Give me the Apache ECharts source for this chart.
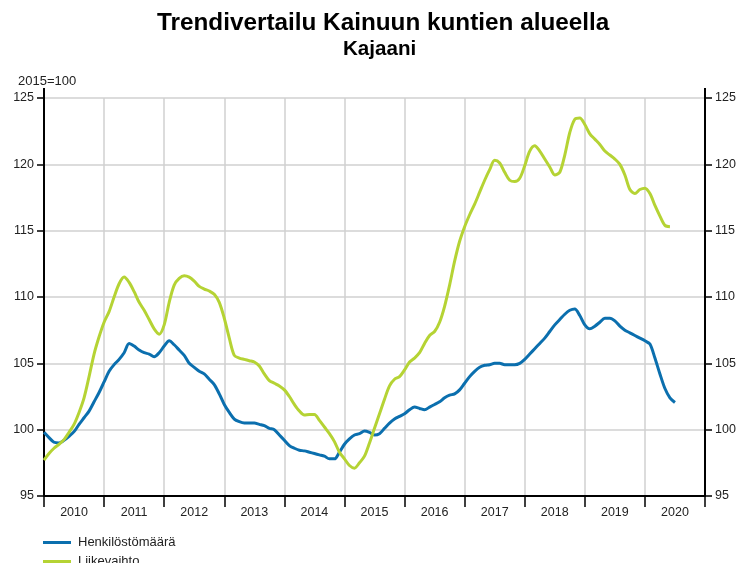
<!DOCTYPE html>
<html>
<head>
<meta charset="utf-8">
<script src="https://cdn.jsdelivr.net/npm/echarts@6/dist/echarts.min.js"></script>
<style>
  html, body { margin: 0; padding: 0; background: #fff; }
  #chart { width: 742px; height: 563px; }
</style>
</head>
<body>
<div id="chart"></div>
<script>
  // vuodet x-akselille
  const years = ['2010','2011','2012','2013','2014','2015','2016','2017','2018','2019','2020'];
  const yMin = 95, yMax = 125, yStep = 5;
  const startYear = 2010;

  // kuukausittaiset trendit, tammikuu 2010 alkaen (2015=100)
  const henkilosto = [
    99.8, 99.4, 99.05, 99.0, 99.2, 99.5, 99.85, 100.4, 100.9, 101.4, 102.1, 102.8,
    103.6, 104.4, 104.9, 105.3, 105.8, 106.5, 106.3, 106.0, 105.8, 105.7, 105.5, 105.8,
    106.3, 106.7, 106.4, 106.0, 105.6, 105.0, 104.7, 104.4, 104.2, 103.8, 103.4, 102.7,
    101.9, 101.3, 100.8, 100.6, 100.5, 100.5, 100.5, 100.4, 100.3, 100.1, 100.0, 99.6,
    99.2, 98.8, 98.6, 98.45, 98.4, 98.3, 98.2, 98.1, 98.0, 97.8, 97.8, 98.3,
    98.9, 99.3, 99.6, 99.7, 99.9, 99.8, 99.6, 99.7, 100.1, 100.5, 100.8, 101.0,
    101.2, 101.5, 101.7, 101.6, 101.5, 101.7, 101.9, 102.1, 102.4, 102.6, 102.7, 103.0,
    103.5, 104.0, 104.4, 104.7, 104.85, 104.9, 105.0, 105.0, 104.9, 104.9, 104.9, 105.0,
    105.3, 105.7, 106.1, 106.5, 106.9, 107.4, 107.9, 108.3, 108.7, 109.0, 109.1, 108.6,
    107.9, 107.6, 107.8, 108.1, 108.4, 108.4, 108.2, 107.8, 107.5, 107.3, 107.1, 106.9,
    106.7, 106.45, 105.4, 104.2, 103.1, 102.4, 102.05
  ];
  const liikevaihto = [
    97.7, 98.2, 98.6, 98.9, 99.25, 99.8, 100.4, 101.3, 102.4, 104.0, 105.7, 107.0,
    108.1, 108.9, 110.0, 111.0, 111.5, 111.1, 110.4, 109.6, 109.0, 108.3, 107.6, 107.2,
    107.9, 109.6, 110.9, 111.4, 111.6, 111.5, 111.2, 110.8, 110.6, 110.45, 110.2, 109.6,
    108.4, 106.9, 105.6, 105.4, 105.3, 105.2, 105.1, 104.8, 104.2, 103.7, 103.5, 103.3,
    103.0, 102.5, 101.9, 101.4, 101.1, 101.15, 101.15, 100.7, 100.2, 99.7, 99.1, 98.3,
    97.8, 97.3, 97.1, 97.5, 98.0, 99.0, 100.1, 101.2, 102.3, 103.3, 103.8, 104.0,
    104.5, 105.1, 105.4, 105.8, 106.5, 107.1, 107.4, 108.1, 109.3, 110.9, 112.7, 114.2,
    115.3, 116.2, 117.0, 117.9, 118.8, 119.6, 120.3, 120.1, 119.4, 118.8, 118.7, 118.95,
    119.9, 121.0, 121.4, 121.0, 120.4, 119.8, 119.2, 119.4, 120.7, 122.4, 123.4, 123.5,
    123.0, 122.3, 121.9, 121.5, 121.0, 120.7, 120.4, 120.0, 119.2, 118.1, 117.8, 118.1,
    118.2, 117.8, 116.9, 116.1, 115.4, 115.3
  ];

  const toPoints = arr => arr.map((v, i) => [startYear + i / 12, v]);

  let chart = echarts.init(document.getElementById('chart'));
  const font = 'Liberation Sans, Arial, sans-serif';
  const blue = '#0b6fae';
  const green = '#b5d334';

  const yAxisBase = {
    type: 'value',
    min: yMin,
    max: yMax,
    interval: yStep,
    axisLine: { show: true, lineStyle: { color: '#000', width: 2 } },
    axisTick: { show: true, length: 7, lineStyle: { color: '#000', width: 1.5 } },
    axisLabel: { color: '#222', fontSize: 12.5, margin: 10 }
  };

  const legendBase = {
    orient: 'vertical',
    left: 43,
    padding: 0,
    icon: 'rect',
    itemWidth: 28,
    itemHeight: 3,
    itemGap: 7,
    textStyle: { fontSize: 13, color: '#222', fontFamily: font, padding: [0, 0, 0, 2] }
  };

  let option = {
    backgroundColor: '#fff',
    textStyle: { fontFamily: font },
    title: [{
      text: 'Trendivertailu Kainuun kuntien alueella',
      left: 152,
      top: 6,
      textStyle: { fontSize: 24.3, fontWeight: 'bold', color: '#000', fontFamily: font }
    }, {
      text: 'Kajaani',
      left: 338,
      top: 34,
      textStyle: { fontSize: 20.6, fontWeight: 'bold', color: '#000', fontFamily: font }
    }, {
      text: '2015=100',
      left: 13,
      top: 70,
      textStyle: { fontSize: 13, fontWeight: 'normal', color: '#222', fontFamily: font }
    }],
    legend: [
      Object.assign({ top: 536, data: ['Henkilöstömäärä'] }, legendBase),
      Object.assign({ top: 555, data: ['Liikevaihto'] }, legendBase)
    ],
    grid: { left: 44, right: 37, top: 98, bottom: 67 },
    xAxis: [{
      type: 'category',
      data: years,
      boundaryGap: true,
      axisLine: { lineStyle: { color: '#000', width: 2 } },
      axisTick: { show: true, length: 11, lineStyle: { color: '#000', width: 1.5 } },
      axisLabel: { color: '#222', fontSize: 12.5, margin: 10 },
      splitLine: { show: true, lineStyle: { color: '#d0d0d0', width: 1.5 } }
    }, {
      type: 'value',
      min: 2010,
      max: 2021,
      show: false
    }],
    yAxis: [
      Object.assign({ position: 'left', splitLine: { show: true, lineStyle: { color: '#d0d0d0', width: 1.5 } } }, yAxisBase),
      Object.assign({ position: 'right', splitLine: { show: false } }, yAxisBase)
    ],
    series: [{
      name: 'Henkilöstömäärä',
      type: 'line',
      xAxisIndex: 1,
      yAxisIndex: 0,
      data: toPoints(henkilosto),
      symbol: 'none',
      smooth: 0.3,
      lineStyle: { color: blue, width: 3 },
      itemStyle: { color: blue }
    }, {
      name: 'Liikevaihto',
      type: 'line',
      xAxisIndex: 1,
      yAxisIndex: 0,
      data: toPoints(liikevaihto),
      symbol: 'none',
      smooth: 0.3,
      lineStyle: { color: green, width: 3 },
      itemStyle: { color: green }
    }]
  };
  chart.setOption(option);

  // pystyakselit jatkuvat hieman ylimmän viivan yli
  const topLeft = chart.convertToPixel({ xAxisIndex: 1, yAxisIndex: 0 }, [2010, yMax]);
  const topRight = chart.convertToPixel({ xAxisIndex: 1, yAxisIndex: 0 }, [2021, yMax]);
  chart.setOption({
    graphic: [topLeft, topRight].map(p => ({
      type: 'line',
      shape: { x1: p[0], y1: p[1] - 10, x2: p[0], y2: p[1] },
      style: { stroke: '#000', lineWidth: 2 },
      silent: true
    }))
  });
</script>
</body>
</html>
